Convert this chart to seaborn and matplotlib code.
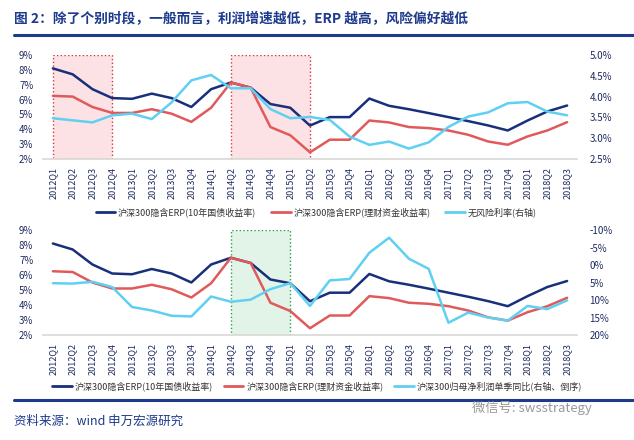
import numpy as np
import pandas as pd
import matplotlib
matplotlib.use("Agg")
import matplotlib.pyplot as plt
import seaborn as sns
from matplotlib.lines import Line2D
from matplotlib.ticker import FuncFormatter

# Data
quarters = ["2012Q1", "2012Q2", "2012Q3", "2012Q4", "2013Q1", "2013Q2", "2013Q3",
            "2013Q4", "2014Q1", "2014Q2", "2014Q3", "2014Q4", "2015Q1", "2015Q2",
            "2015Q3", "2015Q4", "2016Q1", "2016Q2", "2016Q3", "2016Q4", "2017Q1",
            "2017Q2", "2017Q3", "2017Q4", "2018Q1", "2018Q2", "2018Q3"]
erp_bond = [8.1, 7.7, 6.7, 6.1, 6.05, 6.4, 6.1, 5.5, 6.7, 7.15, 6.8, 5.7, 5.45, 4.25,
            4.82, 4.82, 6.07, 5.58, 5.35, 5.09, 4.82, 4.55, 4.26, 3.92, 4.59, 5.2, 5.6]
erp_wmp = [6.25, 6.2, 5.5, 5.1, 5.1, 5.35, 5.05, 4.5, 5.45, 7.15, 6.8, 4.15, 3.6, 2.45,
           3.3, 3.3, 4.59, 4.46, 4.15, 4.08, 3.92, 3.63, 3.18, 2.96, 3.52, 3.92, 4.48]
risk_free = [3.48, 3.43, 3.38, 3.55, 3.59, 3.46, 3.86, 4.39, 4.52, 4.2, 4.2, 3.7, 3.48,
             3.51, 3.44, 3.04, 2.84, 2.92, 2.75, 2.9, 3.27, 3.52, 3.62, 3.84, 3.87, 3.64, 3.55]
profit_yoy = [5.2, 5.3, 4.8, 6.3, 12.0, 13.0, 14.5, 14.7, 9.0, 10.5, 9.9, 6.9, 5.2, 11.7,
              4.4, 4.0, -3.5, -7.8, -1.8, 1.1, 16.5, 13.6, 15.0, 15.9, 11.7, 12.6, 10.1]

navy = "#18307c"
red = "#e05a5c"
cyan = "#5fd0f2"
tick_col = "#1f2a60"

sns.set_theme(style="white")
plt.rcParams['font.family'] = ['Noto Sans CJK SC', 'DejaVu Sans']

df = pd.DataFrame({"quarter": quarters, "erp_bond": erp_bond, "erp_wmp": erp_wmp,
                   "risk_free": risk_free, "profit_yoy": profit_yoy})

fig = plt.figure(figsize=(6.34, 4.4), dpi=100)
W, H = 634, 440
ax1 = fig.add_axes([43 / W, 1 - 159 / H, 534 / W, 104 / H])
ax2 = fig.add_axes([43 / W, 1 - 335 / H, 534 / W, 105 / H])


def style_left(ax):
    ax.set_xlim(-0.5, len(quarters) - 0.5)
    ax.set_ylim(2, 9)
    ax.set_yticks(range(2, 10))
    ax.yaxis.set_major_formatter(FuncFormatter(lambda v, p: f"{v:.0f}%"))
    for s in ["top", "left", "right"]:
        ax.spines[s].set_visible(False)
    ax.spines["bottom"].set_color("#d9d9d9")
    ax.set_xticks(range(len(quarters)))
    ax.set_xticklabels(quarters, rotation=90)
    ax.tick_params(axis="x", labelsize=6.5, colors=tick_col, length=0, pad=6)
    ax.tick_params(axis="y", labelsize=7, colors=tick_col, length=0, pad=7)
    ax.set_xlabel("")
    ax.set_ylabel("")
    ax.grid(False)


def style_right(ax):
    for s in ["top", "left", "right", "bottom"]:
        ax.spines[s].set_visible(False)
    ax.tick_params(axis="y", labelsize=7, colors=tick_col, length=0, pad=9)
    ax.set_ylabel("")
    ax.grid(False)


# Top panel
ax1.axvspan(0, 3, ymin=0, ymax=1, facecolor="#fde2e5", edgecolor="#e0303a",
            linestyle=":", linewidth=1.0, zorder=0)
ax1.axvspan(9, 13, ymin=0, ymax=1, facecolor="#fde2e5", edgecolor="#e0303a",
            linestyle=":", linewidth=1.0, zorder=0)
sns.lineplot(data=df, x="quarter", y="erp_bond", ax=ax1, color=navy, lw=1.8, sort=False)
sns.lineplot(data=df, x="quarter", y="erp_wmp", ax=ax1, color=red, lw=1.8, sort=False)
style_left(ax1)
ax1r = ax1.twinx()
sns.lineplot(data=df, x="quarter", y="risk_free", ax=ax1r, color=cyan, lw=1.8, sort=False)
ax1r.set_ylim(2.5, 5.0)
ax1r.set_yticks(np.arange(2.5, 5.01, 0.5))
ax1r.yaxis.set_major_formatter(FuncFormatter(lambda v, p: f"{v:.1f}%"))
style_right(ax1r)
ax1r.set_xlim(-0.5, len(quarters) - 0.5)

# Bottom panel
ax2.axvspan(9, 12, ymin=0, ymax=1, facecolor="#e2f4e8", edgecolor="#22a24a",
            linestyle=":", linewidth=1.0, zorder=0)
sns.lineplot(data=df, x="quarter", y="erp_bond", ax=ax2, color=navy, lw=1.8, sort=False)
sns.lineplot(data=df, x="quarter", y="erp_wmp", ax=ax2, color=red, lw=1.8, sort=False)
style_left(ax2)
ax2r = ax2.twinx()
sns.lineplot(data=df, x="quarter", y="profit_yoy", ax=ax2r, color=cyan, lw=1.8, sort=False)
ax2r.set_ylim(20, -10)
ax2r.set_yticks(range(-10, 21, 5))
ax2r.yaxis.set_major_formatter(FuncFormatter(lambda v, p: f"{v:.0f}%"))
style_right(ax2r)
ax2r.set_xlim(-0.5, len(quarters) - 0.5)

# Legends
top_handles = [Line2D([], [], color=navy, lw=2), Line2D([], [], color=red, lw=2),
               Line2D([], [], color=cyan, lw=2)]
top_labels = ["沪深300隐含ERP(10年国债收益率)", "沪深300隐含ERP(理财资金收益率)", "无风险利率(右轴)"]
fig.legend(top_handles, top_labels, loc="center", bbox_to_anchor=(316 / W, 1 - 212 / H),
           ncol=3, frameon=False, fontsize=6.5, handlelength=2.2, columnspacing=1.6,
           handletextpad=0.3, labelcolor="#333333")
bot_labels = ["沪深300隐含ERP(10年国债收益率)", "沪深300隐含ERP(理财资金收益率)",
              "沪深300归母净利润单季同比(右轴、倒序)"]
fig.legend(top_handles, bot_labels, loc="center", bbox_to_anchor=(317 / W, 1 - 386 / H),
           ncol=3, frameon=False, fontsize=6.5, handlelength=2.2, columnspacing=1.2,
           handletextpad=0.3, labelcolor="#333333")

# Title, rules and source
fig.text(14 / W, 1 - 19 / H, "图 2：除了个别时段，一般而言，利润增速越低，ERP 越高，风险偏好越低",
         fontsize=9.9, fontweight="bold", color="#1d3a8c", va="center", ha="left")
fig.add_artist(Line2D([14 / W, 1], [1 - 35 / H] * 2, color="#1d3a8c", lw=2.2))
fig.add_artist(Line2D([14 / W, 1], [1 - 400 / H] * 2, color="#1d3a8c", lw=2.2))
fig.text(14 / W, 1 - 421 / H, "资料来源：wind 申万宏源研究", fontsize=9,
         color="#1d3a8c", va="center", ha="left")
fig.text(472 / W, 1 - 408 / H, "微信号: swsstrategy", fontsize=9.5,
         color="#9a9a9a", va="center", ha="left")

fig.savefig("out.png", dpi=100)
